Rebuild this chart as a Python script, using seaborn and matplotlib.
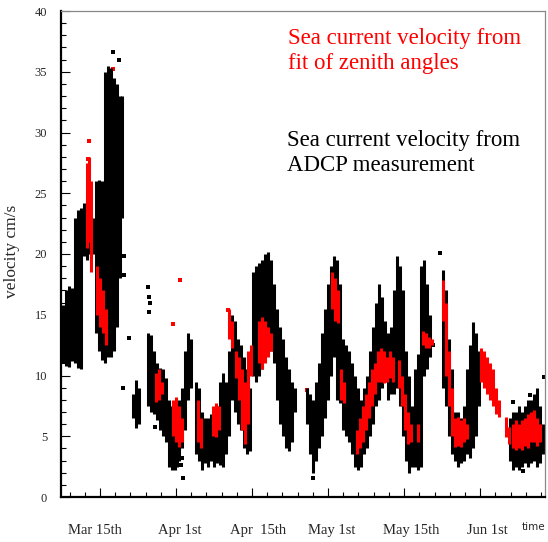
import matplotlib
matplotlib.use("Agg")
import matplotlib.pyplot as plt
import seaborn as sns

# -----------------------------------
# Data (time in days from Mar 15th, velocity in cm/s)
# -----------------------------------
# ADCP measurement: velocity range seen in each time slice
adcp_t = [-7.3, -6.7, -6.1, -5.5, -4.9, -4.3, -3.7, -3.2, -2.6, -2.0, -1.4, -0.8, -0.2, 0.4,
          1.0, 1.6, 2.2, 2.8, 3.4, 3.9, 4.3, 6.5, 7.1, 7.7, 9.5, 10.1, 10.7, 11.2, 11.8, 12.4,
          13.0, 13.6, 14.2, 14.8, 15.2, 15.6, 16.2, 16.8, 17.4, 18.0, 18.9, 19.5, 20.1, 20.7,
          21.3, 21.9, 22.5, 23.1, 23.7, 24.3, 24.9, 25.4, 26.0, 26.6, 27.2, 27.8, 28.4, 29.0,
          29.6, 30.2, 30.8, 31.4, 32.0, 32.5, 33.1, 33.7, 34.3, 34.9, 35.5, 36.1, 36.7, 37.3,
          37.9, 38.5, 40.8, 41.4, 42.0, 42.6, 43.2, 43.8, 44.4, 45.0, 45.6, 46.2, 46.8, 47.3,
          47.9, 48.5, 49.1, 49.7, 50.3, 50.9, 51.5, 52.1, 52.7, 53.3, 53.9, 54.4, 55.0, 55.6,
          56.2, 56.8, 57.4, 58.0, 58.6, 59.2, 59.8, 60.4, 61.0, 61.5, 62.1, 62.7, 63.3, 63.9,
          64.5, 65.1, 67.7, 68.2, 68.8, 69.4, 70.0, 70.6, 71.2, 71.8, 72.4, 73.0, 73.6, 74.2,
          74.8, 80.9, 81.5, 82.1, 82.6, 83.2, 83.8, 84.4, 85.0, 85.6, 86.2, 86.8, 87.4]
adcp_lo = [11.0, 10.8, 10.7, 11.2, 11.0, 10.6, 10.5, 19.8, 19.5, 20.0, 20.0, 13.5, 12.0, 11.3,
           11.0, 11.5, 11.5, 12.0, 14.0, 18.0, 23.0, 6.5, 5.7, 6.0, 7.5, 7.0, 6.8, 6.3, 5.5, 5.0,
           4.5, 2.5, 2.2, 2.2, 2.5, 3.0, 4.0, 5.5, 8.0, 9.0, 3.5, 3.0, 2.2, 2.8,
           2.5, 3.0, 2.5, 2.8, 2.6, 2.5, 3.5, 5.0, 8.0, 7.0, 6.0, 5.5, 4.0, 3.5,
           3.8, 10.0, 9.5, 10.0, 10.5, 11.5, 12.5, 12.0, 11.0, 8.0, 6.0, 5.0, 4.0, 3.8,
           4.5, 7.0, 6.0, 3.5, 2.0, 3.0, 4.0, 5.0, 6.5, 8.0, 10.0, 11.5, 8.0, 7.7,
           5.5, 5.0, 4.5, 3.5, 2.5, 2.2, 2.5, 3.5, 4.0, 5.0, 6.0, 7.5, 8.0, 9.0,
           9.5, 8.0, 8.5, 8.5, 9.0, 7.5, 5.0, 3.0, 2.0, 2.5, 2.5, 2.2, 2.5, 10.0,
           10.5, 11.5, 9.0, 7.5, 5.0, 3.5, 3.0, 2.5, 2.8, 3.0, 3.5, 3.2, 4.0, 5.0,
           7.5, 3.0, 2.2, 2.5, 2.2, 2.5, 2.8, 2.5, 2.8, 3.0, 2.5, 2.8, 3.5]
adcp_hi = [15.8, 17.0, 17.4, 17.2, 23.0, 23.6, 23.8, 24.2, 24.6, 24.4, 23.0, 26.0, 26.1, 26.0,
           35.0, 35.5, 35.3, 34.5, 34.0, 33.0, 33.0, 8.5, 9.6, 9.0, 13.5, 13.3, 12.0, 11.0, 10.6, 10.5,
           9.8, 8.0, 7.5, 6.5, 5.0, 8.0, 9.0, 12.0, 13.5, 13.0, 9.5, 9.0, 7.0, 6.5,
           6.5, 6.8, 7.0, 7.5, 9.5, 10.2, 9.5, 12.0, 15.0, 14.5, 13.0, 12.5, 11.5, 10.5,
           9.0, 18.5, 19.0, 19.3, 19.5, 20.0, 20.2, 19.5, 17.5, 15.5, 14.0, 13.0, 11.5, 10.5,
           9.5, 9.0, 9.0, 8.5, 8.0, 9.5, 11.0, 13.5, 15.5, 17.5, 19.0, 19.8, 19.5, 17.5,
           13.0, 12.5, 12.0, 11.0, 10.0, 9.0, 8.0, 9.0, 10.0, 12.0, 14.0, 16.0, 17.5, 16.5,
           14.5, 13.5, 14.0, 17.0, 19.8, 19.0, 17.0, 12.0, 10.0, 7.5, 10.5, 11.8, 19.0, 19.5,
           17.5, 15.0, 18.7, 17.0, 13.0, 10.5, 7.0, 7.0, 6.5, 7.5, 10.5, 12.5, 14.4, 13.5,
           12.0, 6.5, 7.0, 7.0, 7.5, 7.0, 7.5, 8.0, 8.0, 8.5, 9.0, 7.5, 6.0]

# ADCP isolated samples
adcp_pt_t = [2.6, 3.7, 4.7, 4.7, 5.7, 4.5, 9.4, 9.6, 9.9, 9.7, 10.8, 16.4, 16.0, 16.1,
             67.1, 65.7, 81.5, 87.6, 83.4, 84.8, 42.0]
adcp_pt_v = [36.6, 36.0, 19.8, 18.3, 13.1, 9.0, 17.3, 16.5, 16.0, 15.2, 5.8, 1.6, 2.6, 3.2,
             20.1, 12.5, 7.8, 9.9, 2.1, 8.4, 1.6]

# fit of zenith angles: velocity range in each time slice
fit_t = [-2.6, -2.2, -1.8, -0.6, 0.0, 0.6, 1.2, 11.0, 11.6, 12.2, 14.4, 15.0, 15.6, 16.2,
         19.3, 19.9, 22.3, 22.9, 23.5, 25.4, 26.0, 26.8, 27.4, 28.0, 28.6, 29.2, 29.8,
         31.4, 32.0, 32.5, 33.1, 33.7, 45.8, 46.4, 46.9, 47.5, 48.1, 50.7, 51.3, 51.9,
         52.5, 53.1, 53.6, 54.2, 54.8, 55.4, 56.0, 56.6, 57.2, 57.8, 59.0, 59.6, 60.2,
         60.8, 61.3, 62.7, 63.7, 64.3, 64.9, 65.5, 67.7, 68.2, 68.8, 69.4, 70.0, 70.6,
         71.2, 71.8, 72.4, 75.1, 75.7, 76.3, 76.9, 77.5, 78.1, 78.7, 80.1, 80.7, 81.5,
         82.1, 82.6, 83.2, 83.8, 84.4, 85.0, 85.6, 86.2, 86.8]
fit_lo = [20.5, 21.0, 18.5, 15.0, 14.0, 13.5, 12.5, 7.8, 8.0, 8.5, 5.0, 4.5, 4.1, 4.5,
          4.5, 4.0, 5.0, 4.9, 5.5, 13.0, 12.3, 9.8, 8.0, 5.5, 4.4, 6.0, 10.0,
          11.0, 10.5, 11.0, 11.5, 12.0, 15.5, 14.5, 14.3, 8.0, 7.7, 3.5, 4.0, 4.5,
          5.5, 6.5, 7.5, 8.5, 9.5, 9.5, 9.4, 9.5, 9.8, 9.5, 9.0, 7.5, 5.5,
          4.4, 4.5, 4.5, 12.5, 12.3, 12.3, 12.5, 14.5, 10.0, 7.5, 5.0, 4.1, 4.2,
          4.1, 4.5, 4.8, 9.5, 9.0, 8.5, 8.0, 7.5, 6.8, 6.6, 4.9, 4.4, 4.0,
          3.9, 4.0, 3.9, 4.2, 4.0, 4.5, 4.5, 4.2, 4.5]
fit_hi = [27.5, 28.0, 26.0, 19.0, 18.0, 17.0, 15.5, 10.2, 10.5, 9.5, 8.0, 8.2, 7.5, 6.5,
          8.0, 6.5, 7.5, 7.7, 7.5, 15.5, 14.5, 12.0, 11.5, 10.5, 9.5, 12.0, 12.5,
          14.5, 14.8, 14.5, 14.0, 13.5, 18.5, 18.0, 17.0, 10.5, 9.5, 5.5, 6.5, 7.5,
          8.5, 9.5, 10.5, 11.0, 12.0, 12.3, 12.0, 11.5, 12.0, 11.5, 11.3, 10.0, 8.5,
          7.0, 6.0, 6.0, 13.7, 13.5, 13.2, 13.0, 17.9, 16.0, 12.0, 9.0, 6.5, 6.6,
          6.3, 6.5, 6.0, 12.3, 12.0, 11.5, 11.0, 10.5, 9.0, 8.0, 6.6, 5.8, 6.0,
          6.3, 6.0, 6.3, 6.5, 6.8, 7.0, 7.2, 6.5, 6.0]

# fit of zenith angles: isolated samples
fit_pt_t = [-2.2, -2.4, 2.6, 3.4, 3.6, 3.2, 3.4, 3.0, 2.6, 2.4, 15.8, 14.4, 17.2, 17.0,
            25.2, 33.1, 33.3, 64.1, 64.1, 40.9, 42.1]
fit_pt_v = [29.3, 27.8, 35.2, 32.8, 31.5, 29.5, 28.3, 23.5, 22.6, 20.0, 17.9, 14.2, 11.2, 10.6,
            15.4, 15.5, 15.0, 16.3, 15.0, 8.8, 6.9]

# axis labels
date_labels = ["Mar 15th", "Apr 1st", "Apr  15th", "May 1st", "May 15th", "Jun 1st"]
date_label_pos = [-1.0, 15.8, 31.2, 45.8, 61.3, 76.5]
major_days = [0, 15, 30, 45, 60, 75]

# -----------------------------------
# Plot
# -----------------------------------
sns.set_theme(style="ticks")
plt.rcParams["font.family"] = ["Liberation Serif", "DejaVu Serif"]

W, H = 548, 542
fig = plt.figure(figsize=(W / 100, H / 100), dpi=100)
ax = fig.add_axes([61 / W, 1 - 497 / H, 484 / W, 486 / H])

ax.vlines(adcp_t, adcp_lo, adcp_hi, colors="black", linewidth=2.2, capstyle="butt")
sns.scatterplot(x=adcp_pt_t, y=adcp_pt_v, marker="s", s=7, color="black",
                linewidth=0, ax=ax)
ax.vlines(fit_t, fit_lo, fit_hi, colors="#ff0000", linewidth=2.2, capstyle="butt")
sns.scatterplot(x=fit_pt_t, y=fit_pt_v, marker="s", s=7, color="#ff0000",
                linewidth=0, ax=ax)

ax.set_xlim(-7.7, 87.8)
ax.set_ylim(0, 40)

# ticks
ax.set_xticks(major_days)
ax.set_xticklabels([])
ax.set_xticks(range(-6, 88, 3), minor=True)
ax.set_yticks(range(0, 41, 5))
ax.set_yticks(range(0, 41, 1), minor=True)
ax.tick_params(axis="both", which="both", direction="in", color="black", width=0.8)
ax.tick_params(axis="both", which="major", length=6.5)
ax.tick_params(axis="both", which="minor", length=3.5)
ax.tick_params(axis="y", which="major", labelsize=9, pad=10)
ax.tick_params(top=False, right=False)

for lab, pos in zip(date_labels, date_label_pos):
    ax.text(pos, -0.068, lab, transform=ax.get_xaxis_transform(), ha="center",
            va="center", fontsize=10.5)

ax.set_xlabel("")
ax.set_ylabel("velocity cm/s", fontsize=12.5)
ax.yaxis.set_label_coords(-0.085, 0.505)

for side in ["left", "bottom"]:
    ax.spines[side].set_linewidth(1.6)
    ax.spines[side].set_color("black")
for side in ["top", "right"]:
    ax.spines[side].set_linewidth(0.9)
    ax.spines[side].set_color("#888888")

fig.text(522 / W, 1 - 527 / H, "time", family="DejaVu Sans", fontsize=7.5,
         ha="left", va="center")

fig.text(288 / W, 1 - 28 / H, "Sea current velocity from\nfit of zenith angles",
         color="#ff0000", fontsize=16.5, ha="left", va="top", linespacing=1.22)
fig.text(287 / W, 1 - 130 / H, "Sea current velocity from\nADCP measurement",
         color="black", fontsize=16.5, ha="left", va="top", linespacing=1.22)

fig.savefig("out.png", dpi=100)
